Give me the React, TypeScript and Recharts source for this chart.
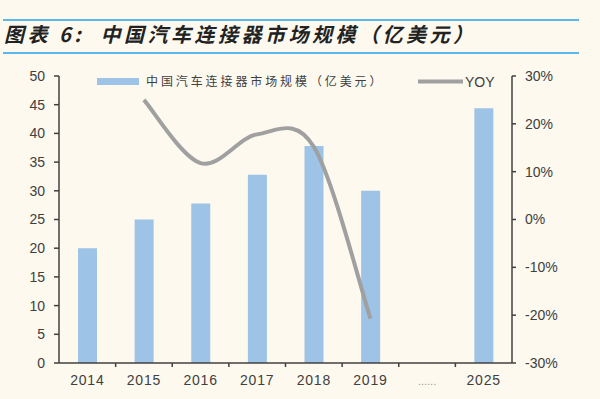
import React from 'react';
import { ComposedChart, Bar, Line, XAxis, YAxis } from 'recharts';

const years = ['2014', '2015', '2016', '2017', '2018', '2019', '......', '2025'];
const marketSize = [20, 25, 27.8, 32.8, 37.8, 30, null, 44.4];
const yoy = [null, 25, 11.8, 17.8, 15.2, -20.7, null, null];
const leftTicks = [0, 5, 10, 15, 20, 25, 30, 35, 40, 45, 50];
const rightTicks = [-30, -20, -10, 0, 10, 20, 30];

const TITLE = '图表 6:  中国汽车连接器市场规模（亿美元）';
const BAR_NAME = '中国汽车连接器市场规模（亿美元）';
const LINE_NAME = 'YOY';

const data = years.map((y, i) => ({ year: y, market: marketSize[i], yoy: yoy[i] }));

const W = 600;
const H = 399;
const M = { top: 76, right: 38, bottom: 6, left: 0 };
const LEFT_W = 59;
const RIGHT_W = 50;
const PLOT_W = W - M.left - M.right - LEFT_W - RIGHT_W;
const HALF_BAND = PLOT_W / years.length / 2;

const FONT = '"Liberation Sans", Arial, sans-serif';
const CJK = '"Noto Sans CJK SC", sans-serif';
const BAR_COLOR = '#9DC3E6';
const LINE_COLOR = '#A0A0A0';
const AXIS_COLOR = '#404040';

// Catmull-Rom style smoothing (like spreadsheet "smoothed line")
const smoothCurve = (context: any) => {
  let pts: number[][] = [];
  return {
    areaStart() {},
    areaEnd() {},
    lineStart() {
      pts = [];
    },
    point(x: number, y: number) {
      pts.push([+x, +y]);
    },
    lineEnd() {
      if (!pts.length) return;
      context.moveTo(pts[0][0], pts[0][1]);
      for (let i = 0; i < pts.length - 1; i++) {
        const p0 = pts[i - 1] || pts[i];
        const p1 = pts[i];
        const p2 = pts[i + 1];
        const p3 = pts[i + 2] || pts[i + 1];
        context.bezierCurveTo(
          p1[0] + (p2[0] - p0[0]) / 6,
          p1[1] + (p2[1] - p0[1]) / 6,
          p2[0] - (p3[0] - p1[0]) / 6,
          p2[1] - (p3[1] - p1[1]) / 6,
          p2[0],
          p2[1]
        );
      }
    },
  };
};

const CatTick = (props: any) => {
  const { x, y, payload, index } = props;
  const isGap = payload.value === '......';
  return (
    <g>
      {index < years.length - 1 && (
        <line x1={x + HALF_BAND} x2={x + HALF_BAND} y1={y} y2={y + 4} stroke={AXIS_COLOR} strokeWidth={1.5} />
      )}
      <text
        x={x}
        y={y + 22}
        textAnchor="middle"
        fontFamily={FONT}
        fontSize={isGap ? 11 : 14}
        letterSpacing={isGap ? 0 : 0.8}
        fill={isGap ? '#999' : '#404040'}
      >
        {payload.value}
      </text>
    </g>
  );
};

const LegendBox = () => (
  <svg width={420} height={16} style={{ position: 'absolute', left: 97, top: 74, overflow: 'visible' }}>
    <rect x={0} y={4} width={42} height={7} fill={BAR_COLOR} />
    <text x={49} y={12} fontFamily={CJK} fontSize={12} letterSpacing={2.9} fill="#404040">
      {BAR_NAME}
    </text>
    <line x1={321} x2={366} y1={7.5} y2={7.5} stroke={LINE_COLOR} strokeWidth={4} />
    <text x={368} y={13} fontFamily={FONT} fontSize={14} fill="#404040">
      {LINE_NAME}
    </text>
  </svg>
);

export default function App() {
  return (
    <div style={{ position: 'absolute', left: 0, top: 0, width: W, height: H, background: '#FDF9EF', overflow: 'hidden' }}>
      <div style={{ position: 'absolute', left: 3, top: 19, width: 576, height: 0, borderTop: '2px solid #5BB8EA' }} />
      <div style={{ position: 'absolute', left: 3, top: 52, width: 576, height: 0, borderTop: '2px solid #5BB8EA' }} />
      <div
        style={{
          position: 'absolute',
          left: 4,
          top: 19,
          fontFamily: CJK,
          fontSize: 20,
          letterSpacing: 3.5,
          fontWeight: 'bold',
          fontStyle: 'italic',
          color: '#222',
          whiteSpace: 'pre',
          lineHeight: '30px',
        }}
      >
        {TITLE}
      </div>
      <ComposedChart width={W} height={H} data={data} margin={M} style={{ position: 'absolute', left: 0, top: 0 }}>
        <XAxis
          dataKey="year"
          xAxisId="x"
          tick={<CatTick />}
          tickLine={false}
          tickSize={0}
          tickMargin={0}
          height={30}
          interval={0}
          axisLine={{ stroke: AXIS_COLOR, strokeWidth: 1.5 }}
        />
        <YAxis
          yAxisId="left"
          orientation="left"
          width={LEFT_W}
          domain={[0, 50]}
          ticks={leftTicks}
          interval={0}
          tickSize={5}
          tickMargin={9}
          tick={{ fontFamily: FONT, fontSize: 14, fill: '#404040' }}
          tickLine={{ stroke: AXIS_COLOR, strokeWidth: 1.5 }}
          axisLine={{ stroke: AXIS_COLOR, strokeWidth: 1.5 }}
        />
        <YAxis
          yAxisId="right"
          orientation="right"
          width={RIGHT_W}
          domain={[-30, 30]}
          ticks={rightTicks}
          interval={0}
          tickSize={4}
          tickMargin={9}
          tickFormatter={(v: number) => `${v}%`}
          tick={{ fontFamily: FONT, fontSize: 14, fill: '#404040' }}
          tickLine={{ stroke: AXIS_COLOR, strokeWidth: 1.5 }}
          axisLine={{ stroke: AXIS_COLOR, strokeWidth: 1.5 }}
        />
        <Bar
          dataKey="market"
          name={BAR_NAME}
          xAxisId="x"
          yAxisId="left"
          fill={BAR_COLOR}
          barSize={19}
          isAnimationActive={false}
        />
        <Line
          dataKey="yoy"
          name={LINE_NAME}
          xAxisId="x"
          yAxisId="right"
          type={smoothCurve as any}
          stroke={LINE_COLOR}
          strokeWidth={4}
          dot={false}
          activeDot={false}
          isAnimationActive={false}
        />
      </ComposedChart>
      <LegendBox />
    </div>
  );
}
